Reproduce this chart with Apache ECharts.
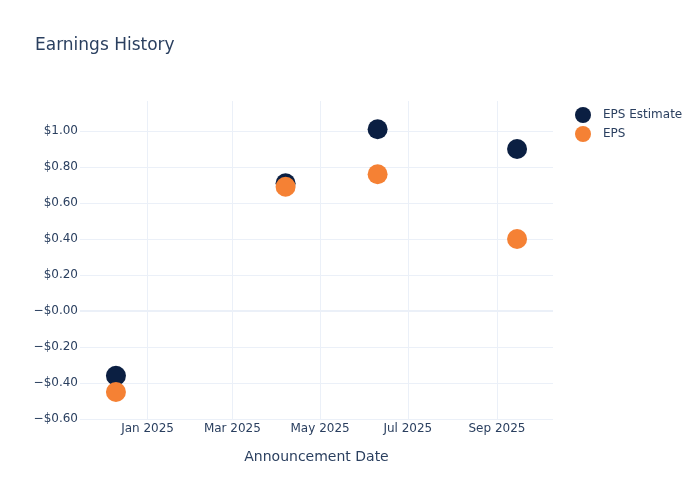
<!DOCTYPE html>
<html>
<head>
<meta charset="utf-8">
<script src="https://cdn.jsdelivr.net/npm/echarts@6/dist/echarts.min.js"></script>
<style>html,body{margin:0;padding:0;background:#fff;}#c{width:700px;height:500px;}</style>
</head>
<body>
<div id="c"></div>
<script>
const dates = ['2024-12-10', '2025-04-07', '2025-06-10', '2025-09-15'];
const epsEstimate = [-0.36, 0.71, 1.01, 0.90];
const eps = [-0.45, 0.69, 0.76, 0.40];
const xTickDates = ['2025-01-01', '2025-03-01', '2025-05-01', '2025-07-01', '2025-09-01'];
const xTickLabels = ['Jan 2025', 'Mar 2025', 'May 2025', 'Jul 2025', 'Sep 2025'];
const xMin = '2024-11-15';
const xMax = '2025-10-10';

const FONT = 'DejaVu Sans, Verdana, sans-serif';
const TXT = '#2a3f5f';
const GRID = '#EBF0F8';
const ts = s => Date.UTC(+s.slice(0, 4), +s.slice(5, 7) - 1, +s.slice(8, 10));
const tickVals = xTickDates.map(ts);

const chart = echarts.init(document.getElementById('c'), null, {renderer: 'canvas'});
chart.setOption({
  animation: false,
  backgroundColor: '#fff',
  textStyle: {fontFamily: FONT},
  title: {
    text: 'Earnings History', left: 35, top: 37, padding: 0,
    textStyle: {fontFamily: FONT, fontSize: 17, fontWeight: 'normal', color: TXT}
  },
  legend: {
    orient: 'vertical', left: 575, top: 107, padding: 0,
    icon: 'circle', itemWidth: 16, itemHeight: 16, itemGap: 3,
    textStyle: {fontFamily: FONT, fontSize: 12, color: TXT, padding: [2, 0, 0, 7]},
    data: ['EPS Estimate', 'EPS']
  },
  grid: [
    {left: 80, right: 147, top: 131, bottom: 81},
    {left: 80, right: 147, top: 101, bottom: 81}
  ],
  xAxis: [
    {gridIndex: 0, type: 'value', min: ts(xMin), max: ts(xMax),
     axisLabel: {show: false}, axisTick: {show: false}, axisLine: {show: false}, splitLine: {show: false}},
    {gridIndex: 1, type: 'value', min: ts(xMin), max: ts(xMax),
     axisLine: {show: false},
     axisTick: {show: false, customValues: tickVals},
     axisLabel: {customValues: tickVals, margin: 4, fontFamily: FONT, fontSize: 12, color: TXT,
       formatter: v => { const i = tickVals.indexOf(v); return i >= 0 ? xTickLabels[i] : ''; }},
     splitLine: {show: true, lineStyle: {color: GRID, width: 1}},
     name: 'Announcement Date', nameLocation: 'middle', nameGap: 31,
     nameTextStyle: {fontFamily: FONT, fontSize: 14, color: TXT}}
  ],
  yAxis: [
    {gridIndex: 0, type: 'value', min: -0.6, max: 1.0, interval: 0.2,
     axisLine: {show: false}, axisTick: {show: false},
     axisLabel: {margin: 2, fontFamily: FONT, fontSize: 12, color: TXT,
       formatter: v => (v <= 0 ? '\u2212$' : '$') + Math.abs(v).toFixed(2)},
     splitLine: {show: true, lineStyle: {color: GRID, width: 1}}},
    {gridIndex: 1, type: 'value', min: 0, max: 1, show: false, splitLine: {show: false}}
  ],
  series: [
    {name: 'EPS Estimate', type: 'scatter', xAxisIndex: 0, yAxisIndex: 0, clip: false,
     symbolSize: 20, itemStyle: {color: '#0B1F42', opacity: 1},
     data: dates.map((d, i) => [ts(d), epsEstimate[i]]),
     markLine: {silent: true, symbol: 'none', label: {show: false},
       lineStyle: {color: GRID, width: 2, type: 'solid'}, data: [{yAxis: 0}], z: 1}},
    {name: 'EPS', type: 'scatter', xAxisIndex: 0, yAxisIndex: 0, clip: false,
     symbolSize: 20, itemStyle: {color: '#F58134', opacity: 1},
     data: dates.map((d, i) => [ts(d), eps[i]])}
  ]
});
</script>
</body>
</html>
